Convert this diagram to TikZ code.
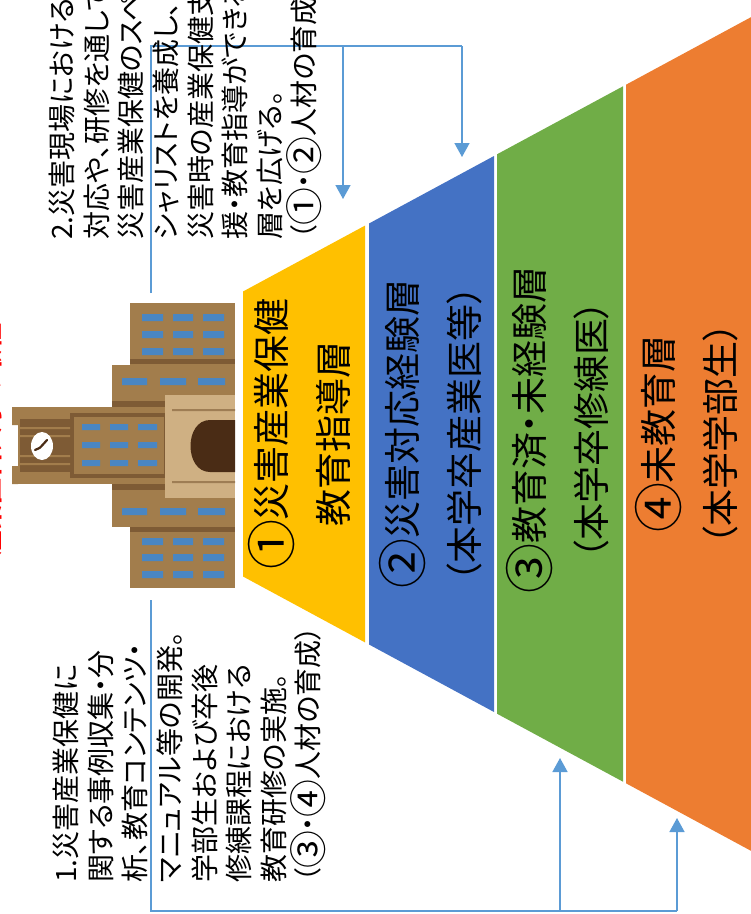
\documentclass[tikz,border=0pt]{standalone}
\usepackage{fontspec}
\setmainfont{Noto Sans CJK JP}[RawFeature=+palt]
\usetikzlibrary{arrows.meta}

\definecolor{bldg}{HTML}{A27D4C}
\definecolor{bldgdark}{HTML}{7E5B35}
\definecolor{bldglight}{HTML}{CFB083}
\definecolor{doorbrown}{HTML}{4A2C15}
\definecolor{winblue}{HTML}{4A86C2}
\definecolor{layerA}{HTML}{FFC000}
\definecolor{layerB}{HTML}{4472C4}
\definecolor{layerC}{HTML}{70AD47}
\definecolor{layerD}{HTML}{ED7D31}
\definecolor{flow}{HTML}{5B9BD5}

% circled digits at full character size
\newcommand{\cnum}[1]{\raisebox{-0.13em}{\scalebox{1.35}{#1}}}

\tikzset{
	layertext/.style={rotate=90, align=center, inner sep=0pt, font=\fontsize{37}{62}\selectfont},
	sidetext/.style={rotate=90, align=left, anchor=north west, inner sep=0pt, font=\fontsize{28}{34.6}\selectfont},
	flowline/.style={draw=flow, line width=1.6pt},
	flowarrow/.style={flowline, -{Triangle[width=15pt,length=14pt]}}
}

\begin{document}
\begin{tikzpicture}[x=1pt,y=-1pt]
			%%%%% START %%%%%
			\useasboundingbox (0,0) rectangle (751,914);
			\clip (0,0) rectangle (751,914);
			
			% layers, narrow end on the left
			\fill[layerA] (243,291.5) -- (365,225.6) -- (365,642.4) -- (243,576.5) -- cycle;
			\fill[layerB] (369,223.5) -- (494,156) -- (494,712) -- (369,644.5) -- cycle;
			\fill[layerC] (497,154.3) -- (623,86.3) -- (623,781.7) -- (497,713.7) -- cycle;
			\fill[layerD] (626,84.7) -- (760,12.3) -- (760,855.7) -- (626,783.3) -- cycle;
			
			\node[layertext] (lyA) at (299,434) {\cnum{①}災害産業保健\\教育指導層};
			\node[layertext] (lyB) at (431,434) {\cnum{②}災害対応経験層\\（本学卒産業医等）};
			\node[layertext] (lyC) at (558,430) {\cnum{③}教育済・未経験層\\（本学卒修練医）};
			\node[layertext] (lyD) at (687,434) {\cnum{④}未教育層\\（本学学部生）};
			
			% building
			\fill[bldg] (130,303) rectangle (235,588);
			\fill[bldgdark] (130,359) rectangle (235,364);
			\fill[bldgdark] (130,527) rectangle (235,532);
			\fill[winblue] (142,314) rectangle (163,321) (173,314) rectangle (193,321) (203,314) rectangle (224,321);
			\fill[winblue] (142,331) rectangle (163,338) (173,331) rectangle (193,338) (203,331) rectangle (224,338);
			\fill[winblue] (142,348) rectangle (163,355) (173,348) rectangle (193,355) (203,348) rectangle (224,355);
			\fill[winblue] (142,538) rectangle (163,545) (173,538) rectangle (193,545) (203,538) rectangle (224,545);
			\fill[winblue] (142,554) rectangle (163,561) (173,554) rectangle (193,561) (203,554) rectangle (224,561);
			\fill[winblue] (142,571) rectangle (163,578) (173,571) rectangle (193,578) (203,571) rectangle (224,578);
			
			\fill[bldg] (112,365) rectangle (235,527);
			\fill[bldgdark] (112,401) rectangle (165,407);
			\fill[bldgdark] (112,484) rectangle (165,490);
			\fill[winblue] (122,378) rectangle (147,385) (160,378) rectangle (186,385) (198,378) rectangle (225,385);
			\fill[winblue] (122,508) rectangle (147,515) (160,508) rectangle (186,515) (198,508) rectangle (225,515);
			
			\fill[bldg] (18,407) rectangle (168,484);
			\fill[bldg] (12,407) rectangle (18,425) (12,466) rectangle (18,484);
			\fill[bldgdark] (70,413) rectangle (167,478);
			\fill[bldg] (74,417) rectangle (164,474);
			\fill[winblue] (82,424) rectangle (100,430) (110,424) rectangle (128,430) (138,424) rectangle (157,430);
			\fill[winblue] (82,442) rectangle (100,448) (110,442) rectangle (128,448) (138,442) rectangle (157,448);
			\fill[winblue] (82,460) rectangle (100,466) (110,460) rectangle (128,466) (138,460) rectangle (157,466);
			\fill[bldgdark] (20,419) rectangle (70,472);
			\fill[bldg] (20,427) rectangle (70,429) (20,435) rectangle (70,437) (20,455) rectangle (70,457) (20,463) rectangle (70,465);
			\fill[white] (42,446) ellipse (11 and 14);
			\draw[doorbrown, line width=2.2pt, line cap=round] (35,450) .. controls (39,449) .. (47,440);
			
			\fill[bldglight] (165,395) rectangle (235,498);
			\fill[bldgdark!60!bldglight] (172,409) rectangle (235,411) (172,481) rectangle (235,483);
			\fill[doorbrown] (235,420) -- (210,420) .. controls (184,420) and (184,472) .. (210,472) -- (235,472) -- cycle;
			
			% flow lines
			\coordinate (bldgtop) at (151,293);
			\coordinate (topleft) at (151,46);
			\coordinate (topright) at (462,46);
			\coordinate (topmid) at (343,46);
			\coordinate (tgtA) at (343,199);
			\coordinate (tgtB) at (462,157);
			\coordinate (bldgbot) at (151,600);
			\coordinate (botleft) at (151,911);
			\coordinate (botright) at (677,911);
			\coordinate (botmid) at (560,911);
			\coordinate (tgtC) at (560,758);
			\coordinate (tgtD) at (677,818);
			
			\draw[flowline] (bldgtop) -- (topleft) -- (topright);
			\draw[flowarrow] (topright) -- (tgtB);
			\draw[flowarrow] (topmid) -- (tgtA);
			\draw[flowline] (bldgbot) -- (botleft) -- (botright);
			\draw[flowarrow] (botright) -- (tgtD);
			\draw[flowarrow] (botmid) -- (tgtC);
			
			% side notes
			\node[sidetext] (noteup) at (49,240) {2.災害現場における\\対応や、研修を通して\\災害産業保健のスペ\\シャリストを養成し、\\災害時の産業保健支\\援・教育指導ができる\\層を広げる。\\（\cnum{①}・\cnum{②}人材の育成）};
			\node[sidetext] (notedown) at (53,883) {1.災害産業保健に\\関する事例収集・分\\析、教育コンテンツ・\\マニュアル等の開発。\\学部生および卒後\\修練課程における\\教育研修の実施。\\（\cnum{③}・\cnum{④}人材の育成）};
			
			\node[rotate=90, text=red, font=\fontsize{26}{30}\selectfont\bfseries] (title) at (-10,440) {産業医科大学の取組};
			%%%%% END %%%%%
\end{tikzpicture}
\end{document}
